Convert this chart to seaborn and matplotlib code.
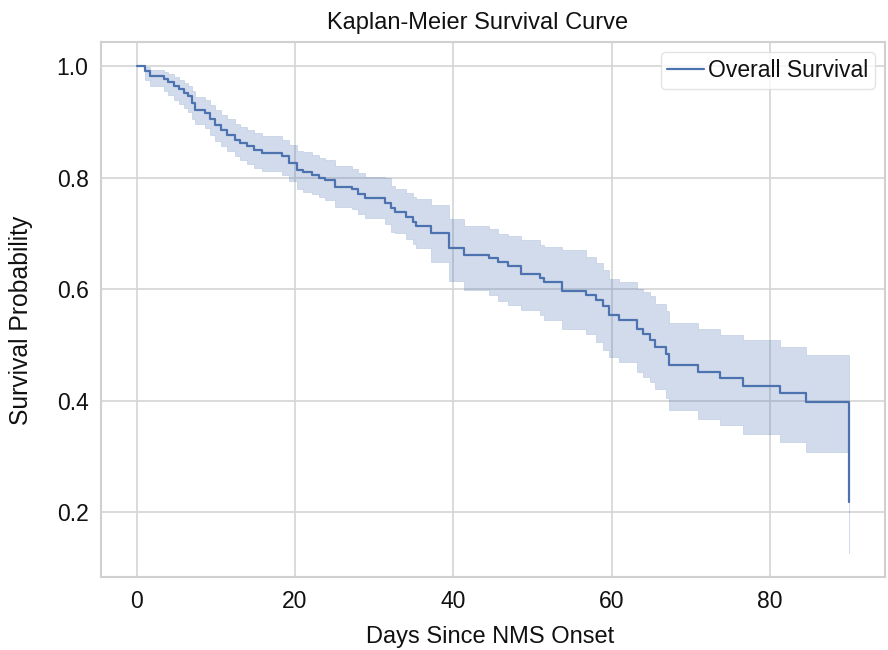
import numpy as np
import pandas as pd
import matplotlib
matplotlib.use("Agg")
import matplotlib.pyplot as plt
import seaborn as sns

# ---- data ----
days = [0, 1.0, 1.7, 3.5, 4.0, 4.7, 5.3, 6.0, 6.5, 7.0, 7.4, 8.6, 9.3, 9.9, 10.6,
        11.4, 12.4, 13.1, 13.9, 14.8, 15.8, 18.3, 19.2, 20.2, 21.0, 22.1, 23.0,
        23.8, 25.1, 27.2, 28.0, 28.8, 31.4, 32.1, 32.6, 34.0, 34.9, 35.3, 37.2,
        39.4, 41.4, 44.5, 45.6, 46.9, 48.5, 50.9, 51.5, 53.7, 56.8, 58.0, 58.9,
        59.6, 60.9, 63.2, 64.0, 64.8, 65.5, 66.8, 67.2, 70.9, 73.7, 76.6, 81.3,
        84.5, 90.0]
survival = [1.0, 0.991, 0.983, 0.976, 0.971, 0.964, 0.958, 0.952, 0.946, 0.934,
            0.922, 0.916, 0.905, 0.895, 0.886, 0.877, 0.868, 0.862, 0.856, 0.850,
            0.844, 0.838, 0.826, 0.814, 0.810, 0.805, 0.800, 0.796, 0.784, 0.779,
            0.770, 0.763, 0.754, 0.746, 0.738, 0.729, 0.720, 0.713, 0.700, 0.673,
            0.662, 0.655, 0.649, 0.642, 0.628, 0.620, 0.612, 0.597, 0.590, 0.581,
            0.570, 0.554, 0.545, 0.528, 0.519, 0.509, 0.497, 0.484, 0.464, 0.452,
            0.440, 0.427, 0.413, 0.397, 0.219]
ci_lower = [1.0, 0.975, 0.965, 0.955, 0.948, 0.940, 0.932, 0.925, 0.918, 0.905,
            0.896, 0.889, 0.877, 0.866, 0.857, 0.848, 0.838, 0.831, 0.825, 0.818,
            0.812, 0.805, 0.793, 0.780, 0.775, 0.770, 0.765, 0.760, 0.748, 0.743,
            0.734, 0.727, 0.717, 0.703, 0.700, 0.690, 0.681, 0.673, 0.648, 0.614,
            0.599, 0.590, 0.578, 0.572, 0.563, 0.554, 0.545, 0.528, 0.519, 0.505,
            0.490, 0.478, 0.469, 0.451, 0.442, 0.433, 0.421, 0.405, 0.383, 0.368,
            0.356, 0.341, 0.326, 0.308, 0.127]
ci_upper = [1.0, 0.998, 0.993, 0.989, 0.985, 0.980, 0.975, 0.970, 0.965, 0.955,
            0.945, 0.940, 0.930, 0.921, 0.912, 0.905, 0.896, 0.891, 0.886, 0.880,
            0.874, 0.868, 0.858, 0.848, 0.845, 0.840, 0.835, 0.831, 0.820, 0.816,
            0.808, 0.801, 0.800, 0.785, 0.780, 0.773, 0.765, 0.762, 0.750, 0.726,
            0.714, 0.708, 0.699, 0.695, 0.688, 0.679, 0.675, 0.670, 0.658, 0.646,
            0.635, 0.618, 0.612, 0.600, 0.595, 0.588, 0.573, 0.561, 0.540, 0.529,
            0.517, 0.508, 0.496, 0.482, 0.350]

title = "Kaplan-Meier Survival Curve"
xlabel = "Days Since NMS Onset"
ylabel = "Survival Probability"
series_label = "Overall Survival"

df = pd.DataFrame({"days": days, "survival": survival,
                   "lo": ci_lower, "hi": ci_upper})

sns.set_theme(style="whitegrid", context="talk")
plt.rcParams["font.family"] = ["Liberation Sans", "DejaVu Sans"]
plt.rcParams["axes.edgecolor"] = "#d0d0d0"
plt.rcParams["grid.color"] = "#d4d4d4"
plt.rcParams["grid.linewidth"] = 1.2
for k in ["text.color", "axes.labelcolor", "xtick.color", "ytick.color"]:
    plt.rcParams[k] = "#111111"

color = sns.color_palette("deep")[0]

fig = plt.figure(figsize=(8.88, 6.5), dpi=100)
ax = fig.add_axes([101 / 888, 1 - 577.3 / 650, 784 / 888, 535.6 / 650])

ax.fill_between(df["days"], df["lo"], df["hi"], step="post",
                color=color, alpha=0.25, linewidth=0.5)
sns.lineplot(data=df, x="days", y="survival", ax=ax, color=color,
             drawstyle="steps-post", estimator=None, sort=False,
             linewidth=1.6, label=series_label)

ax.tick_params(axis="both", labelsize=16.5, length=0)
ax.tick_params(axis="x", pad=9.5)
ax.tick_params(axis="y", pad=9)
ax.set_xticks([0, 20, 40, 60, 80])
ax.set_yticks([0.2, 0.4, 0.6, 0.8, 1.0])

ax.set_xlabel(xlabel, fontsize=17)
ax.xaxis.label.set_verticalalignment("baseline")
ax.xaxis.set_label_coords((490 - 101) / 784, (7 - 72.7) / 535.6)
ax.set_ylabel(ylabel, fontsize=17.8)
ax.yaxis.set_label_coords((33.5 - 101) / 784, (330 - 72.7) / 535.6)
ax.set_title(title, fontsize=17, pad=9.1, x=(478 - 101) / 784)

for s in ax.spines.values():
    s.set_linewidth(1.5)

leg = ax.legend(loc="upper right", fontsize=16.5, handlelength=1.6,
                handletextpad=0.15, borderpad=0.3, borderaxespad=0.45,
                frameon=True, fancybox=True)
leg.get_frame().set_edgecolor("#dddddd")
leg.get_frame().set_linewidth(1.0)

fig.savefig("out.png", dpi=100)
